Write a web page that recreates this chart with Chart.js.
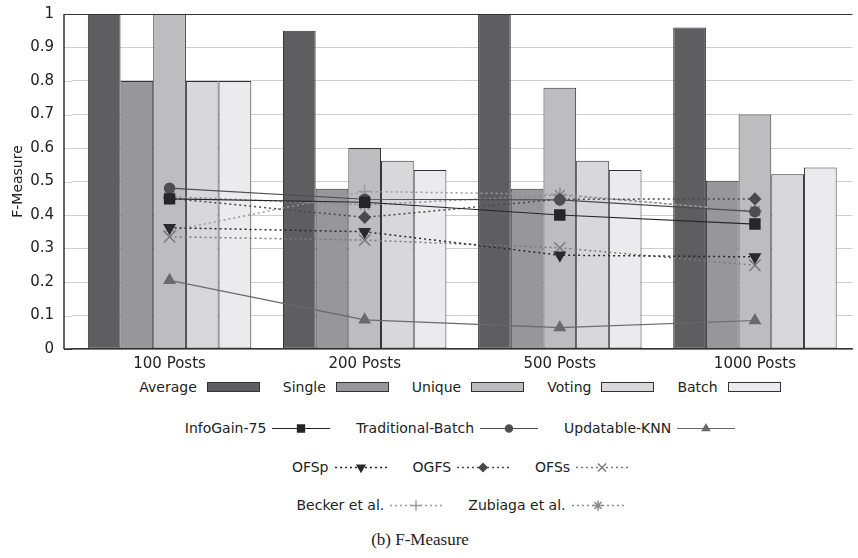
<!DOCTYPE html>
<html><head><meta charset="utf-8">
<script src="https://cdn.jsdelivr.net/npm/chart.js@4/dist/chart.umd.min.js"></script>
<style>
html,body{margin:0;padding:0;background:#fff;overflow:hidden;}
#wrap{position:relative;width:858px;height:558px;overflow:hidden;font-family:'DejaVu Sans',sans-serif;color:#222;}
#c{position:absolute;left:0;top:0;}
.row{position:absolute;left:64px;width:792px;height:20px;display:flex;justify-content:center;align-items:center;font-size:14px;}
.item{display:flex;align-items:center;}
.item span{white-space:nowrap;}
#cap{position:absolute;left:0;width:840px;top:530px;text-align:center;font-family:'Liberation Serif','Times New Roman',serif;font-size:17px;color:#222;}
</style></head><body>
<div id="wrap"><canvas id="c" width="862" height="375"></canvas>
<div id="legend"></div>
<div id="cap">(b) F-Measure</div></div>
<script>
// ---- data ----
const categories = ['100 Posts', '200 Posts', '500 Posts', '1000 Posts'];
const yTickLabels = ['0', '0.1', '0.2', '0.3', '0.4', '0.5', '0.6', '0.7', '0.8', '0.9', '1'];

const average = [1.0, 0.95, 1.0, 0.96];
const single  = [0.80, 0.478, 0.478, 0.502];
const unique  = [1.0, 0.60, 0.78, 0.70];
const voting  = [0.80, 0.562, 0.562, 0.522];
const batch   = [0.80, 0.534, 0.534, 0.542];

const infoGain75       = [0.448, 0.438, 0.400, 0.373];
const traditionalBatch = [0.480, 0.447, 0.445, 0.410];
const updatableKNN     = [0.205, 0.087, 0.064, 0.085];
const ofsp             = [0.362, 0.350, 0.280, 0.275];
const ogfs             = [0.450, 0.393, 0.447, 0.448];
const ofss             = [0.335, 0.325, 0.302, 0.250];
const becker           = [0.352, 0.470, 0.462, 0.410];
const zubiaga          = [0.455, 0.430, 0.460, 0.412];

// ---- series styling ----
const barSeries = [
  {label: 'Average', data: average, color: '#5e5e60'},
  {label: 'Single',  data: single,  color: '#979799'},
  {label: 'Unique',  data: unique,  color: '#bdbdc0'},
  {label: 'Voting',  data: voting,  color: '#d8d8da'},
  {label: 'Batch',   data: batch,   color: '#ebebed'}
];
const lineSeries = [
  {label: 'InfoGain-75',       data: infoGain75,       color: '#262626', dash: [],     style: 'rect',     rot: 0,   r: 7,   row: 1},
  {label: 'Traditional-Batch', data: traditionalBatch, color: '#4e4e50', dash: [],     style: 'circle',   rot: 0,   r: 5,   row: 1},
  {label: 'Updatable-KNN',     data: updatableKNN,     color: '#6a6a6c', dash: [],     style: 'triangle', rot: 0,   r: 6,   row: 1},
  {label: 'OFSp',              data: ofsp,             color: '#2a2a2a', dash: [2, 3], style: 'triangle', rot: 180, r: 6,   row: 2},
  {label: 'OGFS',              data: ogfs,             color: '#4a4a4c', dash: [2, 3], style: 'rectRot',  rot: 0,   r: 5.5, row: 2},
  {label: 'OFSs',              data: ofss,             color: '#7a7a7c', dash: [2, 3], style: 'crossRot', rot: 0,   r: 8,   row: 2},
  {label: 'Becker et al.',     data: becker,           color: '#9a9a9c', dash: [2, 3], style: 'cross',    rot: 0,   r: 7,   row: 3},
  {label: 'Zubiaga et al.',    data: zubiaga,          color: '#8a8a8c', dash: [2, 3], style: 'star',     rot: 0,   r: 7,   row: 3}
];

const datasets = [];
barSeries.forEach(s => datasets.push({
  type: 'bar', label: s.label, data: s.data, backgroundColor: s.color,
  borderColor: '#333', borderWidth: 1, borderSkipped: false,
  categoryPercentage: 0.8376, barPercentage: 1.0, order: 2
}));
lineSeries.forEach(s => datasets.push({
  type: 'line', label: s.label, data: s.data, borderColor: s.color,
  borderWidth: s.dash.length ? 1.5 : 1.2, borderDash: s.dash, fill: false, tension: 0,
  pointStyle: s.style, rotation: s.rot, pointRadius: s.r,
  pointBackgroundColor: s.color, pointBorderColor: s.color, pointBorderWidth: 1.5,
  order: 1
}));

const FONT = "'DejaVu Sans',sans-serif";
Chart.defaults.font.family = FONT;
Chart.defaults.font.size = 15;
Chart.defaults.color = '#222';

const GRID = '#cfcfcf', AXIS = '#333', AXIS_EXT = 8;
// draws the left axis line slightly left of the category area, extending the grid to it
const axisExtend = {
  id: 'axisExtend',
  afterDatasetsDraw(chart) {
    const {ctx, chartArea: a, scales: {y}} = chart;
    const x0 = a.left - AXIS_EXT;
    ctx.save();
    ctx.lineWidth = 1;
    y.ticks.forEach(t => {
      const py = Math.round(y.getPixelForValue(t.value)) + 0.5;
      ctx.strokeStyle = (t.value > 0.999 || t.value < 0.001) ? AXIS : GRID;
      ctx.beginPath(); ctx.moveTo(x0, py); ctx.lineTo(a.left, py); ctx.stroke();
    });
    ctx.strokeStyle = AXIS; ctx.lineWidth = 1.5;
    ctx.beginPath(); ctx.moveTo(x0, a.top); ctx.lineTo(x0, a.bottom); ctx.stroke();
    ctx.beginPath(); ctx.moveTo(x0, a.bottom); ctx.lineTo(a.left, a.bottom); ctx.stroke();
    ctx.restore();
  }
};

new Chart(document.getElementById('c'), {
  type: 'bar',
  data: {labels: categories, datasets: datasets},
  plugins: [axisExtend],
  options: {
    responsive: false, animation: false, devicePixelRatio: 1,
    layout: {padding: {top: 14, right: 2, left: 0, bottom: 0}},
    plugins: {legend: {display: false}, tooltip: {enabled: false}},
    scales: {
      x: {
        grid: {display: false, drawTicks: false},
        border: {color: AXIS, width: 1.5},
        ticks: {padding: 6, font: {size: 15}},
        afterFit(s) { s.height = 26; }
      },
      y: {
        min: 0, max: 1,
        ticks: {stepSize: 0.1, padding: 2, font: {size: 15},
          callback: v => yTickLabels[Math.round(v * 10)]},
        grid: {drawTicks: true, tickLength: 16, tickColor: 'rgba(0,0,0,0)', lineWidth: 1,
          color: c => (c.tick && Math.round(c.tick.value * 10) === 10) ? AXIS : GRID},
        border: {display: false},
        title: {display: true, text: 'F-Measure', font: {size: 14}, padding: {top: 10, bottom: 0}},
        afterFit(s) { s.width = 72; }
      }
    }
  }
});

// ---- HTML legend ----
const legend = document.getElementById('legend');
const rowTops = [377, 418, 457, 495];
const rows = rowTops.map(t => {
  const d = document.createElement('div');
  d.className = 'row'; d.style.top = t + 'px';
  legend.appendChild(d); return d;
});
barSeries.forEach((s, i) => {
  const it = document.createElement('div'); it.className = 'item';
  if (i > 0) it.style.marginLeft = '23px';
  const sp = document.createElement('span'); sp.textContent = s.label;
  const sw = document.createElement('div');
  sw.style.cssText = 'width:51px;height:8px;margin-left:10px;border:1px solid #333;background:' + s.color;
  it.appendChild(sp); it.appendChild(sw); rows[0].appendChild(it);
});
const counters = [0, 0, 0, 0];
lineSeries.forEach(s => {
  const it = document.createElement('div'); it.className = 'item';
  if (counters[s.row] > 0) it.style.marginLeft = '26px';
  counters[s.row]++;
  const sp = document.createElement('span'); sp.textContent = s.label;
  const cv = document.createElement('canvas');
  const W = s.row === 1 ? 58 : 52;
  cv.width = W; cv.height = 16; cv.style.marginLeft = '6px';
  const ctx = cv.getContext('2d');
  ctx.strokeStyle = s.color; ctx.fillStyle = s.color;
  ctx.lineWidth = s.dash.length ? 1.5 : 1.2;
  ctx.setLineDash(s.dash);
  ctx.beginPath(); ctx.moveTo(0, 8.5); ctx.lineTo(W, 8.5); ctx.stroke();
  ctx.setLineDash([]);
  if (Chart.helpers && Chart.helpers.drawPoint) {
    Chart.helpers.drawPoint(ctx, {pointStyle: s.style, rotation: s.rot, radius: s.r * 0.72, borderWidth: 1.3}, W / 2, 8.5);
  }
  it.appendChild(sp); it.appendChild(cv); rows[s.row].appendChild(it);
});
</script>
</body></html>
